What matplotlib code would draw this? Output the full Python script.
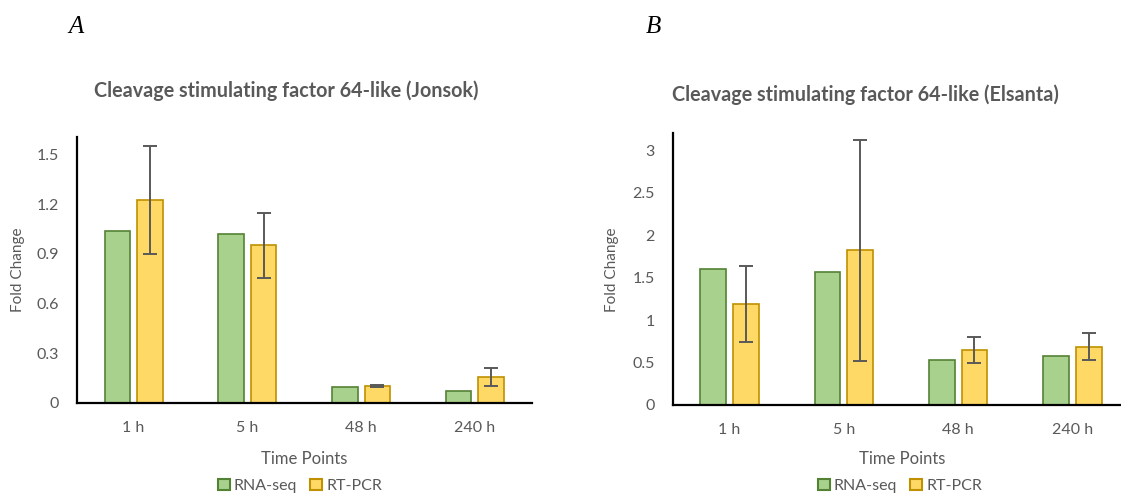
import matplotlib
matplotlib.use("Agg")
import matplotlib.pyplot as plt
import numpy as np
from matplotlib.patches import Patch

# Time points shared by both panels
categories = ["1 h", "5 h", "48 h", "240 h"]

# Panel A: Jonsok
jonsok_rnaseq = [1.039, 1.019, 0.097, 0.072]
jonsok_rtpcr = [1.224, 0.950, 0.101, 0.157]
jonsok_rtpcr_err = [0.324, 0.195, 0.005, 0.054]
jonsok_ticks = [0, 0.3, 0.6, 0.9, 1.2, 1.5]
jonsok_tick_labels = ["0", "0.3", "0.6", "0.9", "1.2", "1.5"]

# Panel B: Elsanta
elsanta_rnaseq = [1.598, 1.567, 0.526, 0.573]
elsanta_rtpcr = [1.186, 1.826, 0.644, 0.687]
elsanta_rtpcr_err = [0.450, 1.305, 0.153, 0.161]
elsanta_ticks = [0, 0.5, 1, 1.5, 2, 2.5, 3]
elsanta_tick_labels = ["0", "0.5", "1", "1.5", "2", "2.5", "3"]

W, H = 1121, 497
DPI = 100
GREEN, GREEN_EDGE = "#A9D18E", "#548235"
YELLOW, YELLOW_EDGE = "#FFD966", "#BF9000"
TEXT = "#595959"
FONT = "Lato"

fig = plt.figure(figsize=(W / DPI, H / DPI), dpi=DPI)
fig.patch.set_facecolor("white")


def px_axes(x0, x1, ytop, ybot):
    return fig.add_axes([x0 / W, 1 - ybot / H, (x1 - x0) / W, (ybot - ytop) / H])


def panel(ax, rna, pcr, err, ymax, ticks, tick_labels):
    x = np.arange(len(categories))
    off, bw = 0.143, 0.225
    ax.bar(x - off, rna, bw, color=GREEN, edgecolor=GREEN_EDGE, linewidth=1.2, zorder=2)
    ax.bar(x + off, pcr, bw, color=YELLOW, edgecolor=YELLOW_EDGE, linewidth=1.2, zorder=2)
    ax.errorbar(x + off, pcr, yerr=err, fmt="none", ecolor="#595959",
                elinewidth=1.4, capsize=5, capthick=1.4, zorder=3)
    ax.set_xlim(-0.5, 3.5)
    ax.set_ylim(0, ymax)
    ax.set_yticks(ticks)
    ax.set_yticklabels(tick_labels)
    ax.set_xticks(x)
    ax.set_xticklabels(categories)
    for s in ("top", "right"):
        ax.spines[s].set_visible(False)
    for s in ("left", "bottom"):
        ax.spines[s].set_color("black")
        ax.spines[s].set_linewidth(1.6)
    ax.tick_params(axis="both", length=0, labelsize=11.5, labelcolor=TEXT)
    ax.tick_params(axis="x", pad=13)
    ax.tick_params(axis="y", pad=13)
    for lab in ax.get_xticklabels() + ax.get_yticklabels():
        lab.set_fontfamily(FONT)
    ax.patch.set_alpha(0)


axA = px_axes(76.7, 531.7, 137.3, 402.7)
panel(axA, jonsok_rnaseq, jonsok_rtpcr, jonsok_rtpcr_err, 1.603,
      jonsok_ticks, jonsok_tick_labels)

axB = px_axes(672.5, 1129.5, 133.3, 404.7)
panel(axB, elsanta_rnaseq, elsanta_rtpcr, elsanta_rtpcr_err, 3.205,
      elsanta_ticks, elsanta_tick_labels)


def ftext(x, y, s, **kw):
    fig.text(x / W, 1 - y / H, s, ha="center", va="center", **kw)


# Panel letters
ftext(76, 27, "A", fontsize=18, family="Liberation Serif", style="italic", color="black")
ftext(653, 27, "B", fontsize=18, family="Liberation Serif", style="italic", color="black")

# Titles
ftext(286.5, 91, "Cleavage stimulating factor 64-like (Jonsok)",
      fontsize=14.2, family=FONT, weight="bold", color=TEXT)
ftext(865, 95, "Cleavage stimulating factor 64-like (Elsanta)",
      fontsize=14.2, family=FONT, weight="bold", color=TEXT)

# Axis titles
ftext(18, 270, "Fold Change", rotation=90, fontsize=11, family=FONT, color=TEXT)
ftext(612, 270, "Fold Change", rotation=90, fontsize=11, family=FONT, color=TEXT)
ftext(304, 459, "Time Points", fontsize=12, family=FONT, color=TEXT)
ftext(902, 459, "Time Points", fontsize=12, family=FONT, color=TEXT)

handles = [Patch(facecolor=GREEN, edgecolor=GREEN_EDGE, linewidth=1.5, label="RNA-seq"),
           Patch(facecolor=YELLOW, edgecolor=YELLOW_EDGE, linewidth=1.5, label="RT-PCR")]
for cx in (300, 900):
    fig.legend(handles=handles, loc="center", bbox_to_anchor=(cx / W, 1 - 486 / H),
               ncol=2, frameon=False, handlelength=0.75, handleheight=0.75,
               handletextpad=0.25, columnspacing=0.8, borderaxespad=0,
               borderpad=0, prop={"family": FONT, "size": 11.5}, labelcolor=TEXT)

fig.savefig("out.png", dpi=DPI, facecolor="white")
